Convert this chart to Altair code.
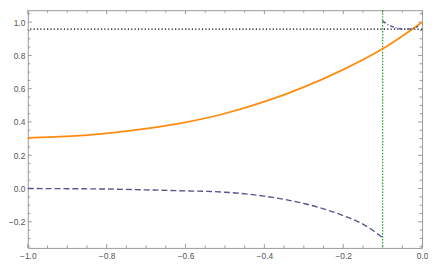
import altair as alt
import pandas as pd

# ---- data ----
orange_x = [-1.0, -0.9, -0.8, -0.7, -0.6, -0.5, -0.4, -0.3, -0.2, -0.1, 0.0]
orange_y = [0.305, 0.314, 0.332, 0.360, 0.398, 0.451, 0.522, 0.610, 0.715, 0.840, 1.0]

blue_x = [-1.0, -0.9, -0.8, -0.7, -0.6, -0.5, -0.4, -0.3, -0.25, -0.2, -0.15, -0.1]
blue_y = [0.0, -0.001, -0.003, -0.008, -0.014, -0.022, -0.046, -0.090, -0.122, -0.163, -0.214, -0.295]

dd_x = [-0.1, -0.09, -0.08, -0.07, -0.06, -0.05, -0.04, -0.03, -0.02, -0.01]
dd_y = [1.008, 0.990, 0.978, 0.968, 0.962, 0.959, 0.958, 0.959, 0.964, 0.974]

hline_y = [0.958]
vline_x = [-0.1]

x_major = [-1.0, -0.8, -0.6, -0.4, -0.2, 0.0]
x_minor = [-0.95, -0.9, -0.85, -0.75, -0.7, -0.65, -0.55, -0.5, -0.45,
           -0.35, -0.3, -0.25, -0.15, -0.1, -0.05]
y_major = [-0.2, 0.0, 0.2, 0.4, 0.6, 0.8, 1.0]
y_minor = [-0.35, -0.3, -0.25, -0.15, -0.1, -0.05, 0.05, 0.1, 0.15, 0.25, 0.3, 0.35,
           0.45, 0.5, 0.55, 0.65, 0.7, 0.75, 0.85, 0.9, 0.95, 1.05]

x_domain = [-1.0, 0.0]
y_domain = [-0.357, 1.072]

W, H = 398, 240
FRAME = "#9a9a9a"

xs = alt.Scale(domain=x_domain, nice=False, zero=False)
ys = alt.Scale(domain=y_domain, nice=False, zero=False)

xaxis = alt.Axis(values=x_major, format=".1f", grid=False, ticks=False, tickSize=0,
                 domain=False, labelFlush=False, labelOverlap=False, labelPadding=4)
yaxis = alt.Axis(values=y_major, format=".1f", grid=False, ticks=False, tickSize=0,
                 domain=False, labelOverlap=False, labelPadding=3)


def X(field):
    return alt.X(field, type="quantitative", scale=xs, axis=xaxis, title=None)


def Y(field):
    return alt.Y(field, type="quantitative", scale=ys, axis=yaxis, title=None)


orange_df = pd.DataFrame({"x": orange_x, "y": orange_y})
blue_df = pd.DataFrame({"x": blue_x, "y": blue_y})
dd_df = pd.DataFrame({"x": dd_x, "y": dd_y})
h_df = pd.DataFrame({"y": hline_y})
v_df = pd.DataFrame({"x": vline_x})

hline = alt.Chart(h_df).mark_rule(color="#000000", strokeWidth=1.2, strokeDash=[1.2, 2.2]).encode(y=Y("y"))
vline = alt.Chart(v_df).mark_rule(color="#1fa01f", strokeWidth=1.2, strokeDash=[1.5, 1.5]).encode(x=X("x"))

orange = alt.Chart(orange_df).mark_line(color="#ff8c10", strokeWidth=1.8, interpolate="monotone").encode(
    x=X("x"), y=Y("y"))
blue = alt.Chart(blue_df).mark_line(color="#55558f", strokeWidth=1.4, strokeDash=[6, 3],
                                    interpolate="monotone").encode(x=X("x"), y=Y("y"))
dd = alt.Chart(dd_df).mark_line(color="#55558f", strokeWidth=1.4, strokeDash=[4, 2, 1, 2],
                                interpolate="monotone").encode(x=X("x"), y=Y("y"))

# frame ticks (inward), Mathematica style
xmaj_df = pd.DataFrame({"v": x_major})
xmin_df = pd.DataFrame({"v": x_minor})
ymaj_df = pd.DataFrame({"v": y_major})
ymin_df = pd.DataFrame({"v": y_minor})

tick_layers = []
for df, L in ((xmaj_df, 4), (xmin_df, 2.5)):
    tick_layers.append(alt.Chart(df).mark_rule(color=FRAME, strokeWidth=1).encode(
        x=X("v"), y=alt.value(H), y2=alt.value(H - L)))
    tick_layers.append(alt.Chart(df).mark_rule(color=FRAME, strokeWidth=1).encode(
        x=X("v"), y=alt.value(0), y2=alt.value(L)))
for df, L in ((ymaj_df, 4), (ymin_df, 2.5)):
    tick_layers.append(alt.Chart(df).mark_rule(color=FRAME, strokeWidth=1).encode(
        y=Y("v"), x=alt.value(0), x2=alt.value(L)))
    tick_layers.append(alt.Chart(df).mark_rule(color=FRAME, strokeWidth=1).encode(
        y=Y("v"), x=alt.value(W), x2=alt.value(W - L)))

chart = alt.layer(*tick_layers, hline, vline, orange, blue, dd).properties(
    width=W, height=H, padding=0
).configure_view(
    stroke=FRAME, strokeWidth=1
).configure_axis(
    labelFont="Liberation Sans", labelFontSize=8.5, labelColor="#555555"
)

chart.save("out.html", embed_options={"renderer": "svg", "actions": False})
